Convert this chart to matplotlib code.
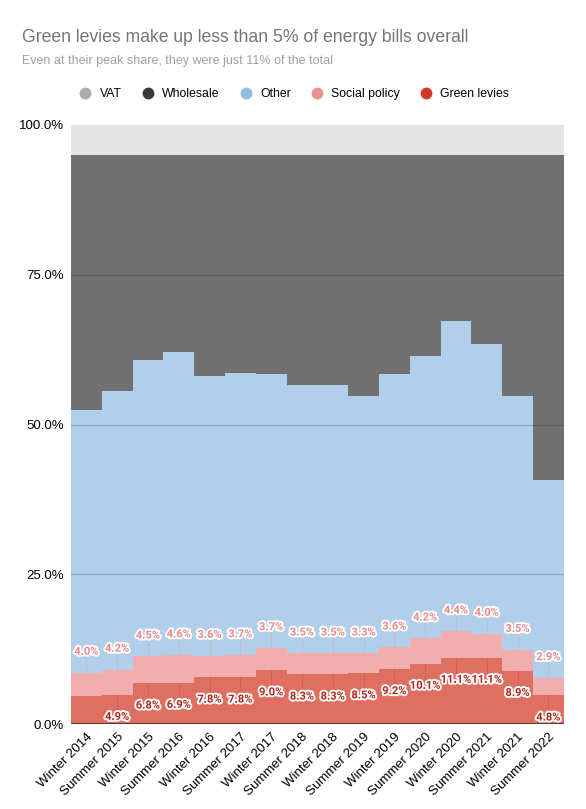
import matplotlib
matplotlib.use("Agg")
import matplotlib.pyplot as plt
import matplotlib.patheffects as pe
from matplotlib.lines import Line2D
import numpy as np

# dados (% da conta)
periodos = ["Winter 2014", "Summer 2015", "Winter 2015", "Summer 2016",
            "Winter 2016", "Summer 2017", "Winter 2017", "Summer 2018",
            "Winter 2018", "Summer 2019", "Winter 2019", "Summer 2020",
            "Winter 2020", "Summer 2021", "Winter 2021", "Summer 2022"]
green = [4.6, 4.9, 6.8, 6.9, 7.8, 7.8, 9.0, 8.3, 8.3, 8.5, 9.2, 10.1, 11.1, 11.1, 8.9, 4.8]
social = [4.0, 4.2, 4.5, 4.6, 3.6, 3.7, 3.7, 3.5, 3.5, 3.3, 3.6, 4.2, 4.4, 4.0, 3.5, 2.9]
other = [43.8, 46.5, 49.4, 50.6, 46.7, 47.1, 45.8, 44.8, 44.8, 43.0, 45.6, 47.1, 51.7, 48.4, 42.4, 33.0]
wholesale = [42.6, 39.4, 34.3, 32.9, 36.9, 36.4, 36.5, 38.4, 38.4, 40.2, 36.6, 33.6, 27.8, 31.5, 40.2, 54.3]
vat = [5.0] * 16

# legenda: cor do ponto, cor da area
series = [
    ("Green levies", green, "#d0392b", "#df6f60"),
    ("Social policy", social, "#ee8f8f", "#f2aeae"),
    ("Other", other, "#8fbde6", "#b1cfea"),
    ("Wholesale", wholesale, "#3b3b3b", "#717171"),
    ("VAT", vat, "#ababab", "#e4e4e4"),
]

fig = plt.figure(figsize=(5.86, 8.09), dpi=100)
ax = fig.add_axes([0.121, 0.105, 0.841, 0.7405])

n = len(periodos)
bordas = np.arange(n + 1) - 0.5
base = np.zeros(n)
for nome, vals, cor_leg, cor_area in series:
    topo = base + np.array(vals)
    ax.stairs(topo, bordas, baseline=base, fill=True, color=cor_area, zorder=2)
    base = topo

ax.set_xlim(-0.5, n - 0.5)
ax.set_ylim(0, 100)
ax.set_yticks([0, 25, 50, 75, 100])
ax.set_yticklabels(["0.0%", "25.0%", "50.0%", "75.0%", "100.0%"],
                   fontsize=9.5, family="Liberation Sans")
for y in [25, 50, 75]:
    ax.axhline(y, color="black", alpha=0.18, lw=0.9, zorder=3)
ax.axhline(0, color="#4a2a24", lw=1.2, zorder=4)
ax.set_xticks(range(n))
ax.set_xticklabels(periodos, rotation=45, ha="right", rotation_mode="anchor",
                   fontsize=9.5, family="Liberation Sans")
ax.tick_params(length=0, pad=5)
for s in ax.spines.values():
    s.set_visible(False)

# rotulos
contorno = [pe.withStroke(linewidth=2.8, foreground="white")]
g = np.array(green)
sp = g + np.array(social)
for i in range(n):
    ax.plot([i, i], [sp[i], sp[i] + 3.2], color="#ee8f8f", lw=0.6, alpha=0.35, zorder=3)
    ax.annotate(f"{social[i]:.1f}%", (i, sp[i]), xytext=(0, 15), textcoords="offset points",
                ha="center", va="center", fontsize=8, color="#ea8a8a",
                family="Roboto", weight="bold", path_effects=contorno, zorder=6)
    if i == 0:
        continue
    ax.plot([i, i], [g[i], g[i] - 3.2], color="#b83226", lw=0.6, alpha=0.3, zorder=3)
    ax.annotate(f"{green[i]:.1f}%", (i, g[i]), xytext=(0, -16), textcoords="offset points",
                ha="center", va="center", fontsize=8, color="#b3261b",
                family="Roboto", weight="bold", path_effects=contorno, zorder=6)

fig.text(0.038, 0.954, "Green levies make up less than 5% of energy bills overall",
         fontsize=12.7, color="#757575", family="Liberation Sans", va="center")
fig.text(0.038, 0.925, "Even at their peak share, they were just 11% of the total",
         fontsize=9, color="#a0a0a0", family="Liberation Sans", va="center")

handles = [Line2D([], [], marker="o", ls="", ms=7.5, color=c) for _, _, c, _ in reversed(series)]
labels = [nome for nome, _, _, _ in reversed(series)]
fig.legend(handles, labels, loc="center", bbox_to_anchor=(0.497, 0.884), ncol=5,
           frameon=False, handletextpad=0.2, columnspacing=1.1,
           prop={"family": "Liberation Sans", "size": 8.8})

fig.savefig("out.png", dpi=100)
